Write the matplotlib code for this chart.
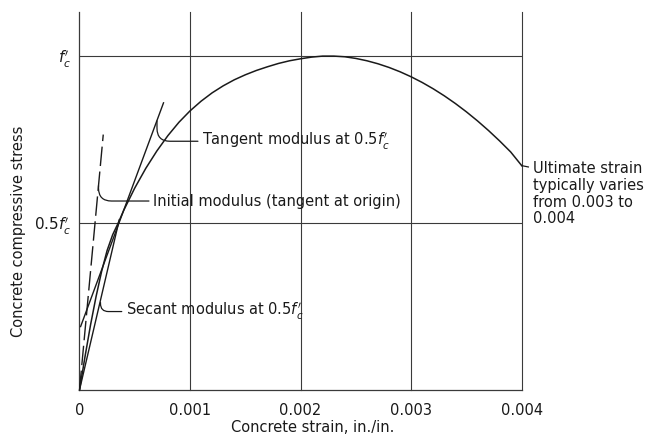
import matplotlib
matplotlib.use("Agg")
import matplotlib.pyplot as plt

# Stress-strain curve (strain in in./in., stress as fraction of f'c)
strain = [0.0, 0.00005, 0.0001, 0.00015, 0.0002, 0.00025, 0.0003, 0.00035, 0.0004,
          0.0005, 0.0006, 0.0007, 0.0008, 0.0009, 0.001, 0.0011, 0.0012, 0.0013,
          0.0014, 0.0015, 0.0016, 0.0017, 0.0018, 0.0019, 0.002, 0.0021, 0.0022,
          0.0023, 0.0024, 0.0025, 0.0026, 0.0027, 0.0028, 0.0029, 0.003, 0.0031,
          0.0032, 0.0033, 0.0034, 0.0035, 0.0036, 0.0037, 0.0038, 0.0039, 0.004]
stress = [0.0, 0.10, 0.195, 0.28, 0.355, 0.418, 0.465, 0.50, 0.538,
          0.605, 0.664, 0.716, 0.762, 0.802, 0.836, 0.865, 0.890, 0.911,
          0.929, 0.944, 0.957, 0.968, 0.978, 0.986, 0.992, 0.997, 1.0,
          1.0, 0.998, 0.993, 0.986, 0.977, 0.966, 0.953, 0.938, 0.921,
          0.902, 0.881, 0.858, 0.833, 0.806, 0.777, 0.746, 0.713, 0.672]

# Modulus lines (end points)
tangent_strain = [0.00001, 0.00076]
tangent_stress = [0.19, 0.86]
secant_strain = [0.0, 0.00036]
secant_stress = [0.0, 0.51]
initial_strain = [0.0, 0.000215]
initial_stress = [0.0, 0.765]

xticks = [0, 0.001, 0.002, 0.003, 0.004]
xtick_labels = ["0", "0.001", "0.002", "0.003", "0.004"]
yticks = [0.5, 1.0]
ytick_labels = [r"$0.5f_c'$", r"$f_c'$"]

ink = "#1a1a1a"
gridc = "#3a3a3a"
fs = 10.5

fig = plt.figure(figsize=(6.51, 4.41), dpi=100)
ax = fig.add_axes([0.1221, 0.1156, 0.6793, 0.8579])
ax.set_xlim(0, 0.004)
ax.set_ylim(0, 1.133)

for s in ["top", "right"]:
    ax.spines[s].set_visible(False)
for s in ["left", "bottom"]:
    ax.spines[s].set_color(gridc)
    ax.spines[s].set_linewidth(0.9)

# reference lines
for xv in xticks[1:]:
    ax.axvline(xv, color=gridc, lw=0.8, clip_on=False, zorder=1)
for yv in yticks:
    ax.axhline(yv, color=gridc, lw=0.8, zorder=1)

ax.set_xticks(xticks)
ax.set_xticklabels(xtick_labels, fontsize=fs, color=ink)
ax.set_yticks(yticks)
ax.set_yticklabels(ytick_labels, fontsize=fs + 0.5, color=ink)
ax.tick_params(axis="both", length=0)
ax.tick_params(axis="x", pad=9)
ax.tick_params(axis="y", pad=6)

# curve and moduli
ax.plot(strain, stress, color=ink, lw=1.1, zorder=3, clip_on=False)
ax.plot(tangent_strain, tangent_stress, color=ink, lw=1.0, zorder=3)
ax.plot(secant_strain, secant_stress, color=ink, lw=1.0, zorder=3)
ax.plot(initial_strain, initial_stress, color=ink, lw=1.0, zorder=3,
        linestyle=(0, (14, 4)))

# annotations
ax.annotate(r"Tangent modulus at $0.5f_c'$", xy=(0.000701, 0.806), xytext=(0.001109, 0.745),
            fontsize=fs, color=ink, va="center", ha="left",
            arrowprops=dict(arrowstyle="-", color=ink, lw=0.9, shrinkA=1, shrinkB=0,
                            connectionstyle="angle,angleA=0,angleB=90,rad=13"))
ax.annotate("Initial modulus (tangent at origin)", xy=(0.000172, 0.612), xytext=(0.000666, 0.566),
            fontsize=fs, color=ink, va="center", ha="left",
            arrowprops=dict(arrowstyle="-", color=ink, lw=0.9, shrinkA=1, shrinkB=0,
                            connectionstyle="angle,angleA=0,angleB=90,rad=13"))
ax.annotate(r"Secant modulus at $0.5f_c'$", xy=(0.00019, 0.262), xytext=(0.00042, 0.235),
            fontsize=fs, color=ink, va="center", ha="left",
            arrowprops=dict(arrowstyle="-", color=ink, lw=0.9, shrinkA=1, shrinkB=0,
                            connectionstyle="angle,angleA=0,angleB=90,rad=8"))

ax.plot([0.004, 0.00406], [0.672, 0.668], color=ink, lw=0.9, clip_on=False, zorder=3)
ax.text(0.004104, 0.686, "Ultimate strain\ntypically varies\nfrom 0.003 to\n0.004",
        fontsize=fs, color=ink, va="top", ha="left", linespacing=1.15)

ax.text(0.527, -0.1, "Concrete strain, in./in.", transform=ax.transAxes,
        fontsize=fs, color=ink, ha="center", va="center")
ax.text(-0.137, 0.42, "Concrete compressive stress", transform=ax.transAxes,
        fontsize=fs, color=ink, ha="center", va="center", rotation=90)

fig.savefig("out.png", dpi=100)
